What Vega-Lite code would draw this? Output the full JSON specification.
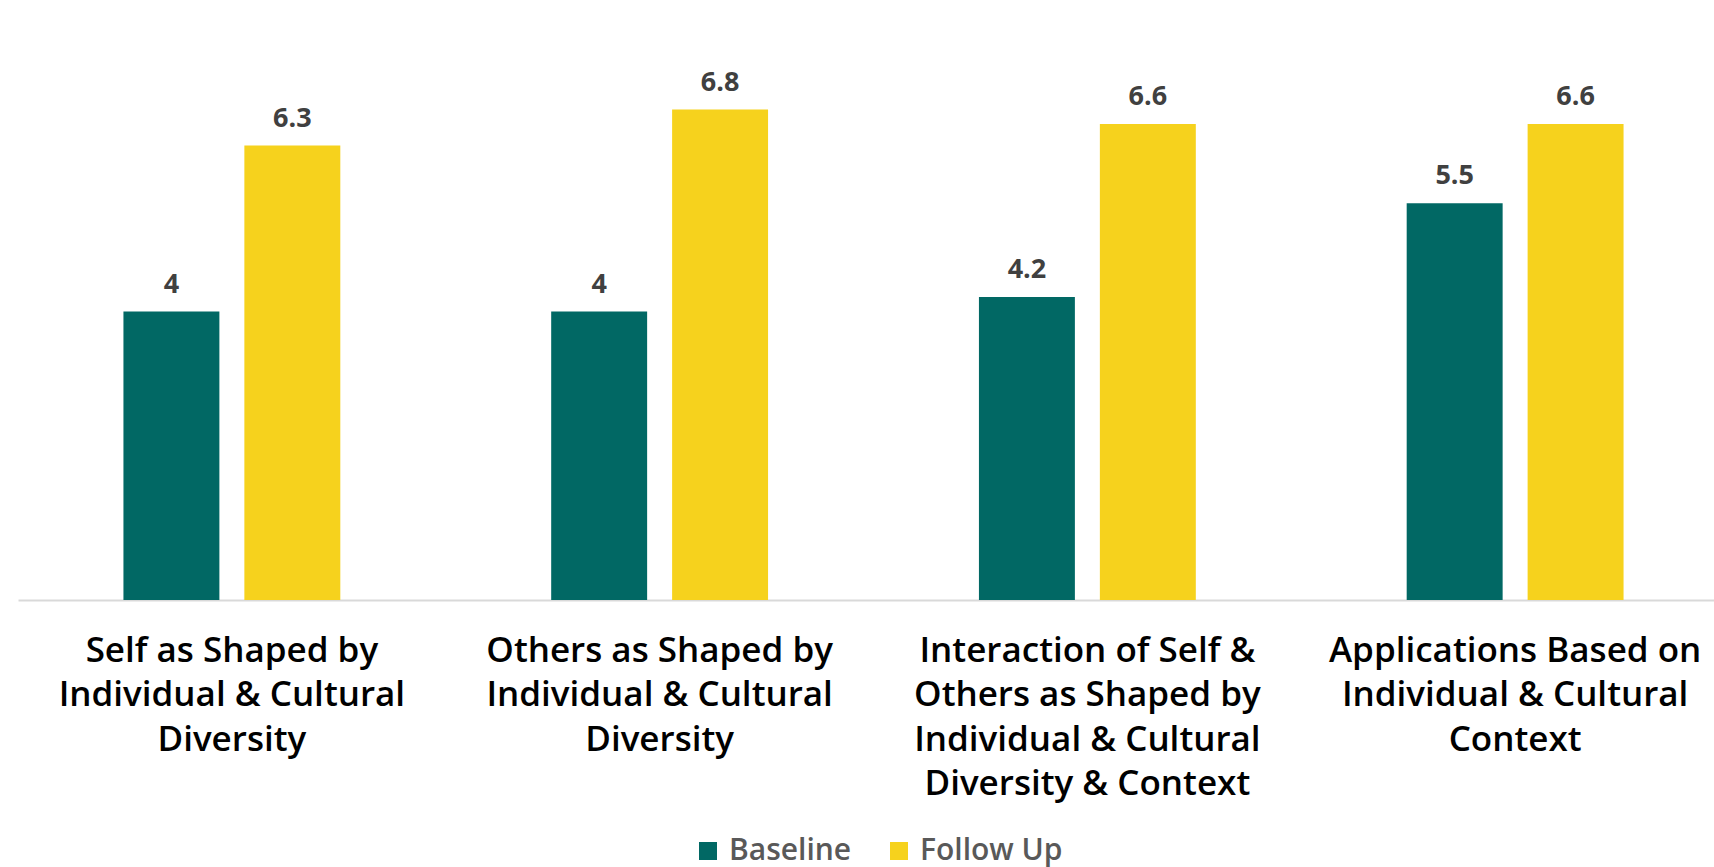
{
  "$schema": "https://vega.github.io/schema/vega-lite/v6.json",
  "autosize": {"type": "none"},
  "width": 1711,
  "height": 577,
  "padding": {"left": 18, "top": 23, "right": 0, "bottom": 267},
  "background": "white",
  "config": {"view": {"stroke": null}, "font": "Open Sans"},
  "data": {"values": [
    {"category": "Self as Shaped by|Individual & Cultural|Diversity", "period": "Baseline", "value": 4},
    {"category": "Self as Shaped by|Individual & Cultural|Diversity", "period": "Follow Up", "value": 6.3},
    {"category": "Others as Shaped by|Individual & Cultural|Diversity", "period": "Baseline", "value": 4},
    {"category": "Others as Shaped by|Individual & Cultural|Diversity", "period": "Follow Up", "value": 6.8},
    {"category": "Interaction of Self &|Others as Shaped by|Individual & Cultural|Diversity & Context", "period": "Baseline", "value": 4.2},
    {"category": "Interaction of Self &|Others as Shaped by|Individual & Cultural|Diversity & Context", "period": "Follow Up", "value": 6.6},
    {"category": "Applications Based on|Individual & Cultural|Context", "period": "Baseline", "value": 5.5},
    {"category": "Applications Based on|Individual & Cultural|Context", "period": "Follow Up", "value": 6.6}
  ]},
  "encoding": {
    "x": {
      "field": "category", "type": "nominal", "sort": null,
      "scale": {"paddingInner": 0.493, "paddingOuter": 0.2465},
      "axis": {
        "title": null, "labelAngle": 0, "ticks": false, "domainColor": "#D9D9D9", "domainWidth": 2,
        "labelExpr": "split(datum.label, '|')", "labelFontSize": 35, "labelFontWeight": 600,
        "labelColor": "#000000", "labelLineHeight": 44.5, "labelPadding": 33, "labelLimit": 0
      }
    },
    "xOffset": {"field": "period", "type": "nominal", "scale": {"paddingInner": 0.2066, "paddingOuter": 0}},
    "y": {"field": "value", "type": "quantitative", "scale": {"domain": [0, 8], "nice": false}, "axis": null}
  },
  "layer": [
    {
      "mark": {"type": "bar"},
      "encoding": {
        "color": {
          "field": "period", "type": "nominal",
          "scale": {"domain": ["Baseline", "Follow Up"], "range": ["#016864", "#F6D21D"]},
          "legend": {
            "title": null, "orient": "none", "direction": "horizontal", "legendX": 675, "legendY": 813,
            "symbolType": "square", "symbolSize": 324, "symbolStrokeWidth": 0,
            "labelFontSize": 30, "labelFontWeight": 600, "labelColor": "#595959",
            "columnPadding": 32, "labelOffset": 6
          }
        }
      }
    },
    {
      "mark": {"type": "text", "dy": -19, "baseline": "alphabetic", "fontSize": 27, "fontWeight": "bold", "color": "#404040"},
      "encoding": {"text": {"field": "value", "type": "quantitative"}}
    }
  ]
}
